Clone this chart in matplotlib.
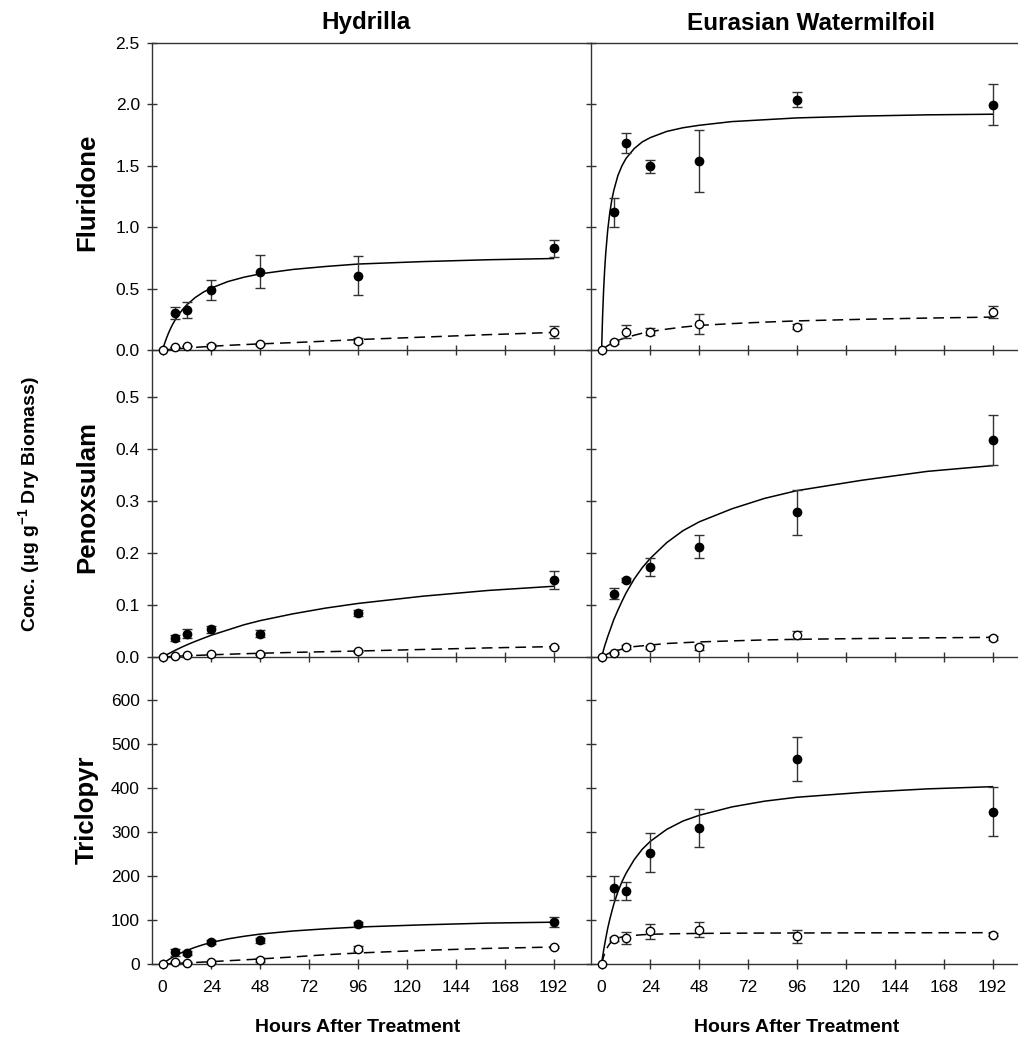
import numpy as np
import matplotlib
matplotlib.use("Agg")
import matplotlib.pyplot as plt

# sampling times (h)
hours = [0, 6, 12, 24, 48, 96, 192]

fit_x = [0, 0.5, 1, 1.5, 2, 3, 4, 5, 6, 8, 10, 12, 16, 20, 24, 32, 40, 48,
         64, 80, 96, 128, 160, 192]

# --- Fluridone ---
flu_hyd_filled = [0.30, 0.326, 0.489, 0.639, 0.603, 0.829]
flu_hyd_filled_err = [0.05, 0.063, 0.085, 0.133, 0.159, 0.068]
flu_hyd_open = [0, 0.027, 0.033, 0.035, 0.049, 0.076, 0.147]
flu_hyd_open_err = [0, 0, 0, 0.01, 0.01, 0.02, 0.048]
flu_hyd_fit = [0, 0.028, 0.053, 0.077, 0.10, 0.141, 0.178, 0.211, 0.24, 0.291,
               0.333, 0.369, 0.427, 0.471, 0.505, 0.557, 0.593, 0.62, 0.656,
               0.68, 0.70, 0.72, 0.735, 0.745]
flu_hyd_fit_open = [0, 0.0007, 0.0014, 0.002, 0.0027, 0.004, 0.0055, 0.0068,
                    0.008, 0.011, 0.013, 0.016, 0.021, 0.026, 0.03, 0.038,
                    0.044, 0.05, 0.06, 0.072, 0.085, 0.105, 0.125, 0.143]

flu_ewm_filled = [1.122, 1.685, 1.495, 1.538, 2.038, 1.997]
flu_ewm_filled_err = [0.117, 0.082, 0.054, 0.255, 0.06, 0.167]
flu_ewm_open = [0, 0.0625, 0.149, 0.149, 0.212, 0.19, 0.31]
flu_ewm_open_err = [0, 0.01, 0.054, 0.027, 0.08, 0.02, 0.046]
flu_ewm_fit = [0, 0.28, 0.49, 0.65, 0.78, 0.975, 1.115, 1.22, 1.30, 1.42, 1.50,
               1.56, 1.64, 1.695, 1.73, 1.78, 1.81, 1.83, 1.86, 1.875, 1.89,
               1.905, 1.915, 1.92]
flu_ewm_fit_open = [0, 0.006, 0.012, 0.018, 0.024, 0.035, 0.045, 0.054, 0.063,
                    0.078, 0.09, 0.10, 0.12, 0.137, 0.15, 0.17, 0.187, 0.20,
                    0.215, 0.227, 0.237, 0.25, 0.26, 0.268]

# --- Penoxsulam ---
pen_hyd_filled = [0.037, 0.045, 0.053, 0.045, 0.085, 0.148]
pen_hyd_filled_err = [0.006, 0.009, 0.006, 0.006, 0.006, 0.018]
pen_hyd_open = [0, 0.002, 0.003, 0.005, 0.005, 0.012, 0.02]
pen_hyd_open_err = [0, 0, 0, 0, 0.001, 0.002, 0.002]
pen_hyd_fit = [0, 0.0011, 0.0022, 0.0033, 0.0043, 0.0065, 0.0085, 0.0105,
               0.0125, 0.0163, 0.02, 0.0235, 0.030, 0.036, 0.042, 0.052, 0.062,
               0.070, 0.083, 0.094, 0.103, 0.117, 0.128, 0.136]
pen_hyd_fit_open = [0, 0.0001, 0.0002, 0.0003, 0.0004, 0.0006, 0.0008, 0.001,
                    0.0012, 0.0016, 0.002, 0.0023, 0.003, 0.0036, 0.0042,
                    0.0053, 0.0063, 0.0072, 0.0088, 0.0102, 0.0115, 0.0145,
                    0.0175, 0.020]

pen_ewm_filled = [0.122, 0.148, 0.173, 0.212, 0.278, 0.417]
pen_ewm_filled_err = [0.01, 0.004, 0.018, 0.022, 0.044, 0.048]
pen_ewm_open = [0, 0.008, 0.019, 0.019, 0.019, 0.042, 0.037]
pen_ewm_open_err = [0, 0.002, 0.004, 0.003, 0.005, 0.008, 0.004]
pen_ewm_fit = [0, 0.007, 0.014, 0.021, 0.027, 0.039, 0.05, 0.061, 0.072, 0.09,
               0.107, 0.123, 0.15, 0.172, 0.19, 0.22, 0.243, 0.26, 0.285,
               0.305, 0.32, 0.34, 0.357, 0.368]
pen_ewm_fit_open = [0, 0.001, 0.002, 0.003, 0.004, 0.006, 0.008, 0.0095, 0.011,
                    0.013, 0.015, 0.017, 0.02, 0.0215, 0.023, 0.026, 0.0275,
                    0.029, 0.031, 0.0328, 0.034, 0.0355, 0.0368, 0.0378]

# --- Triclopyr ---
tri_hyd_filled = [27, 24.6, 50, 54, 90, 95.4]
tri_hyd_filled_err = [8, 5, 5, 6, 5, 12]
tri_hyd_open = [0, 4, 3, 4.6, 9, 35, 38.5]
tri_hyd_open_err = [0, 1, 1, 2, 5, 5, 3]
tri_hyd_fit = [0, 1.8, 3.5, 5.3, 7, 10, 13, 15.5, 18, 23, 27, 31, 38, 44, 49,
               57, 63, 68, 75, 80, 84, 89, 93, 95]
tri_hyd_fit_open = [0, 0.1, 0.2, 0.3, 0.4, 0.6, 0.8, 1.0, 1.2, 1.7, 2.1, 2.6,
                    3.5, 4.4, 5.4, 7.4, 9.4, 11.5, 16, 21, 25, 31, 35.5, 38.5]

tri_ewm_filled = [173, 166, 253, 309, 465, 346]
tri_ewm_filled_err = [28, 21, 44, 44, 50, 56]
tri_ewm_open = [0, 57, 59, 74.5, 78, 63, 67]
tri_ewm_open_err = [0, 5, 14, 17, 17, 15, 4]
tri_ewm_fit = [0, 16, 31, 44, 57, 81, 101, 119, 136, 164, 187, 206, 237, 261,
               279, 306, 325, 338, 357, 370, 379, 390, 398, 403]
tri_ewm_fit_open = [0, 9, 17, 24, 30, 39, 46, 51, 55, 59, 61.5, 63, 65, 66.5,
                    67.5, 68.5, 69, 69.5, 70, 70.3, 70.5, 70.8, 71, 71.2]

col_titles = ["Hydrilla", "Eurasian Watermilfoil"]
row_titles = ["Fluridone", "Penoxsulam", "Triclopyr"]

AX_COLOR = "#333333"


def draw_panel(ax, filled, filled_err, opened, opened_err, fit, fit_open):
    ax.plot(fit_x, fit, color="black", lw=1.1, zorder=2)
    ax.plot(fit_x, fit_open, color="black", lw=1.1, ls=(0, (7, 4)), zorder=2)
    ax.errorbar(hours[1:], filled, yerr=filled_err, fmt="none", ecolor=AX_COLOR,
                elinewidth=1, capsize=3.5, capthick=1, zorder=3)
    ax.errorbar(hours, opened, yerr=opened_err, fmt="none", ecolor=AX_COLOR,
                elinewidth=1, capsize=3.5, capthick=1, zorder=3)
    ax.plot(hours[1:], filled, "o", mfc="black", mec="black", ms=6,
            clip_on=False, zorder=4)
    ax.plot(hours, opened, "o", mfc="white", mec="black", ms=6, mew=1,
            clip_on=False, zorder=5)


def main():
    plt.rcParams["font.family"] = ["Liberation Sans", "DejaVu Sans"]
    plt.rcParams["mathtext.fontset"] = "custom"
    plt.rcParams["mathtext.rm"] = "Liberation Sans"
    plt.rcParams["mathtext.bf"] = "Liberation Sans:bold"

    W, H = 1018, 1038
    fig = plt.figure(figsize=(W / 100, H / 100), dpi=100)

    panels = [
        [(flu_hyd_filled, flu_hyd_filled_err, flu_hyd_open, flu_hyd_open_err, flu_hyd_fit, flu_hyd_fit_open),
         (flu_ewm_filled, flu_ewm_filled_err, flu_ewm_open, flu_ewm_open_err, flu_ewm_fit, flu_ewm_fit_open)],
        [(pen_hyd_filled, pen_hyd_filled_err, pen_hyd_open, pen_hyd_open_err, pen_hyd_fit, pen_hyd_fit_open),
         (pen_ewm_filled, pen_ewm_filled_err, pen_ewm_open, pen_ewm_open_err, pen_ewm_fit, pen_ewm_fit_open)],
        [(tri_hyd_filled, tri_hyd_filled_err, tri_hyd_open, tri_hyd_open_err, tri_hyd_fit, tri_hyd_fit_open),
         (tri_ewm_filled, tri_ewm_filled_err, tri_ewm_open, tri_ewm_open_err, tri_ewm_fit, tri_ewm_fit_open)],
    ]

    # panel geometry (pixels), panels touch each other
    col_left = [152, 591]
    col_width = 439
    row_top = [43, 350, 657]
    row_height = 307
    ylims = [(0, 2.5), (0, 0.5904), (0, 697.7)]
    yticks = [np.arange(0, 2.51, 0.5), np.arange(0, 0.51, 0.1), np.arange(0, 601, 100)]
    yfmt = ["%.1f", "%.1f", "%.0f"]

    for r in range(3):
        for c in range(2):
            ax = fig.add_axes([col_left[c] / W, 1 - (row_top[r] + row_height) / H,
                               col_width / W, row_height / H])
            draw_panel(ax, *panels[r][c])
            ax.set_xlim(-5.2, 210.4)
            ax.set_ylim(*ylims[r])
            ax.set_xticks(range(0, 193, 24))
            ax.set_yticks(yticks[r])
            ax.yaxis.set_major_formatter(plt.FormatStrFormatter(yfmt[r]))
            ax.tick_params(direction="inout", length=6.5, width=1, color=AX_COLOR,
                           labelsize=12.5, pad=5.5)
            ax.tick_params(axis="x", pad=8)
            ax.tick_params(labelbottom=(r == 2), labelleft=(c == 0))
            ax.spines["right"].set_visible(False)
            ax.spines["top"].set_visible(r == 0)
            for s in ax.spines.values():
                s.set_color(AX_COLOR)
                s.set_linewidth(1)
            ax.patch.set_visible(False)

    # column titles
    fig.text(366 / W, 1 - 23 / H, col_titles[0], ha="center", va="center",
             fontsize=17.5, fontweight="bold")
    fig.text(811 / W, 1 - 23 / H, col_titles[1], ha="center", va="center",
             fontsize=17.5, fontweight="bold")

    # row titles
    for y, name in zip([192, 497, 810], row_titles):
        fig.text(87 / W, 1 - y / H, name, ha="center", va="center", rotation=90,
                 fontsize=18.5, fontweight="bold")

    fig.text(30 / W, 1 - 504 / H, r"Conc. (μg g$^{\mathbf{-1}}$ Dry Biomass)",
             ha="center", va="center", rotation=90, fontsize=14, fontweight="bold")

    for x in [358, 797]:
        fig.text(x / W, 1 - 1027 / H, "Hours After Treatment", ha="center",
                 va="center", fontsize=14, fontweight="bold")

    fig.savefig("out.png", dpi=100)


if __name__ == "__main__":
    main()
